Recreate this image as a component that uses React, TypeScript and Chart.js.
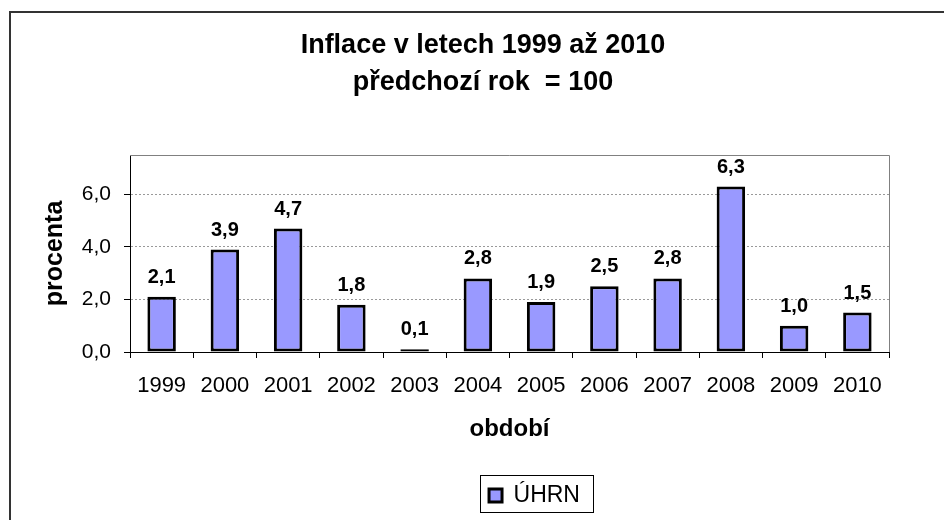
import React, { useEffect, useRef } from 'react';
import { Chart, registerables } from 'chart.js';

Chart.register(...registerables);

// ---- data ----
const titleLines = ['Inflace v letech 1999 až 2010', 'předchozí rok  = 100'];
const years = ['1999', '2000', '2001', '2002', '2003', '2004', '2005', '2006', '2007', '2008', '2009', '2010'];
const inflation = [2.1, 3.9, 4.7, 1.8, 0.1, 2.8, 1.9, 2.5, 2.8, 6.3, 1.0, 1.5];
const yTickValues = [0, 2, 4, 6];
const yMax = 7.5;
const seriesName = 'ÚHRN';
const yAxisTitle = 'procenta';
const xAxisTitle = 'období';

const FONT = "'Liberation Sans', Arial, Helvetica, sans-serif";
const fmt = (v: number) => v.toFixed(1).replace('.', ',');

const framePlugin = {
  id: 'frame',
  beforeDraw(chart: any) {
    const { ctx, width, height } = chart;
    ctx.save();
    ctx.fillStyle = '#ffffff';
    ctx.fillRect(0, 0, width, height);
    ctx.strokeStyle = '#333333';
    ctx.lineWidth = 2;
    ctx.strokeRect(10, 12, width + 20, height + 40);
    ctx.restore();
  },
  beforeDatasetsDraw(chart: any) {
    const { ctx, chartArea } = chart;
    ctx.save();
    ctx.strokeStyle = '#808080';
    ctx.lineWidth = 1;
    ctx.beginPath();
    ctx.moveTo(chartArea.left, chartArea.top + 0.5);
    ctx.lineTo(chartArea.right + 0.5, chartArea.top + 0.5);
    ctx.lineTo(chartArea.right + 0.5, chartArea.bottom);
    ctx.stroke();
    ctx.restore();
  },
};

const shiftPlugin = {
  id: 'shiftBoxes',
  afterLayout(chart: any) {
    const t = chart.titleBlock;
    if (t) { t.left += 38.5; t.right += 38.5; }
    const l = chart.legend;
    if (l) { l.left += 90; l.right += 90; }
  },
};

const dataLabelPlugin = {
  id: 'dataLabels',
  afterDatasetsDraw(chart: any) {
    const { ctx } = chart;
    const meta = chart.getDatasetMeta(0);
    ctx.save();
    ctx.fillStyle = '#000';
    ctx.font = `bold 20px ${FONT}`;
    ctx.textAlign = 'center';
    ctx.textBaseline = 'alphabetic';
    meta.data.forEach((bar: any, i: number) => {
      ctx.fillText(fmt(inflation[i]), bar.x, bar.y - 14);
    });
    ctx.restore();
  },
};

const legendBoxPlugin = {
  id: 'legendBox',
  afterDraw(chart: any) {
    const l = chart.legend;
    if (!l || !l.legendHitBoxes || !l.legendHitBoxes.length) return;
    const hb = l.legendHitBoxes[0];
    const { ctx } = chart;
    ctx.save();
    ctx.strokeStyle = '#000';
    ctx.lineWidth = 1;
    const x0 = Math.round(hb.left - 9) + 0.5;
    const y0 = Math.round(hb.top - 9) + 0.5;
    const x1 = Math.round(hb.left + hb.width + 13) + 0.5;
    const y1 = Math.round(hb.top + hb.height + 5) + 0.5;
    ctx.strokeRect(x0, y0, x1 - x0, y1 - y0);
    ctx.restore();
  },
};

export default function App() {
  const ref = useRef<HTMLCanvasElement | null>(null);

  useEffect(() => {
    const canvas = ref.current;
    if (!canvas) return;
    const chart = new Chart(canvas, {
      type: 'bar',
      data: {
        labels: years,
        datasets: [
          {
            label: seriesName,
            data: inflation,
            backgroundColor: '#9999FF',
            borderColor: '#000000',
            borderWidth: 3,
            borderSkipped: false,
            barPercentage: 0.45,
            categoryPercentage: 1,
          },
        ],
      },
      options: {
        responsive: false,
        animation: false,
        devicePixelRatio: 1,
        layout: { padding: { left: 0, right: 55, top: 0, bottom: 3 } },
        plugins: {
          title: {
            display: true,
            text: titleLines,
            color: '#000',
            font: { family: FONT, size: 27, weight: 'bold', lineHeight: 37 / 27 },
            padding: { top: 27.5, bottom: 53.5 },
          },
          legend: {
            display: true,
            position: 'bottom',
            labels: {
              color: '#000',
              font: { family: FONT, size: 23 },
              boxWidth: 13,
              boxHeight: 13,
              padding: 40,
            },
          },
          tooltip: { enabled: false },
        },
        scales: {
          x: {
            grid: {
              display: true,
              drawOnChartArea: false,
              drawTicks: true,
              tickLength: 6,
              tickColor: '#000',
              offset: true,
            },
            border: { display: true, color: '#000', width: 1 },
            ticks: {
              color: '#000',
              font: { family: FONT, size: 22 },
              padding: 15,
              maxRotation: 0,
              autoSkip: false,
            },
            title: {
              display: true,
              text: xAxisTitle,
              color: '#000',
              font: { family: FONT, size: 24, weight: 'bold' },
              padding: { top: 16, bottom: 0 },
            },
            afterFit: (s: any) => { s.height = 92; },
          },
          y: {
            min: 0,
            max: yMax,
            afterBuildTicks: (s: any) => { s.ticks = yTickValues.map((v) => ({ value: v })); },
            grid: {
              color: (c: any) => (c.tick && c.tick.value === 0 ? 'rgba(0,0,0,0)' : '#999999'),
              tickColor: '#000',
              tickLength: 6,
              drawTicks: true,
              tickBorderDash: [],
            },
            border: { display: true, color: '#000', width: 1, dash: [2, 2] },
            ticks: {
              color: '#000',
              font: { family: FONT, size: 21 },
              padding: 13,
              callback: (v: any) => fmt(Number(v)),
            },
            title: {
              display: true,
              text: yAxisTitle,
              color: '#000',
              font: { family: FONT, size: 25, weight: 'bold' },
              padding: { top: 40.5, bottom: 0 },
            },
            afterFit: (s: any) => { s.width = 130; },
          },
        },
      } as any,
      plugins: [framePlugin, shiftPlugin, dataLabelPlugin, legendBoxPlugin],
    });
    return () => chart.destroy();
  }, []);

  return (
    <div style={{ position: 'fixed', left: 0, top: 0, width: 944, height: 520, background: '#fff' }}>
      <canvas ref={ref} width={944} height={520} style={{ display: 'block' }} />
    </div>
  );
}
